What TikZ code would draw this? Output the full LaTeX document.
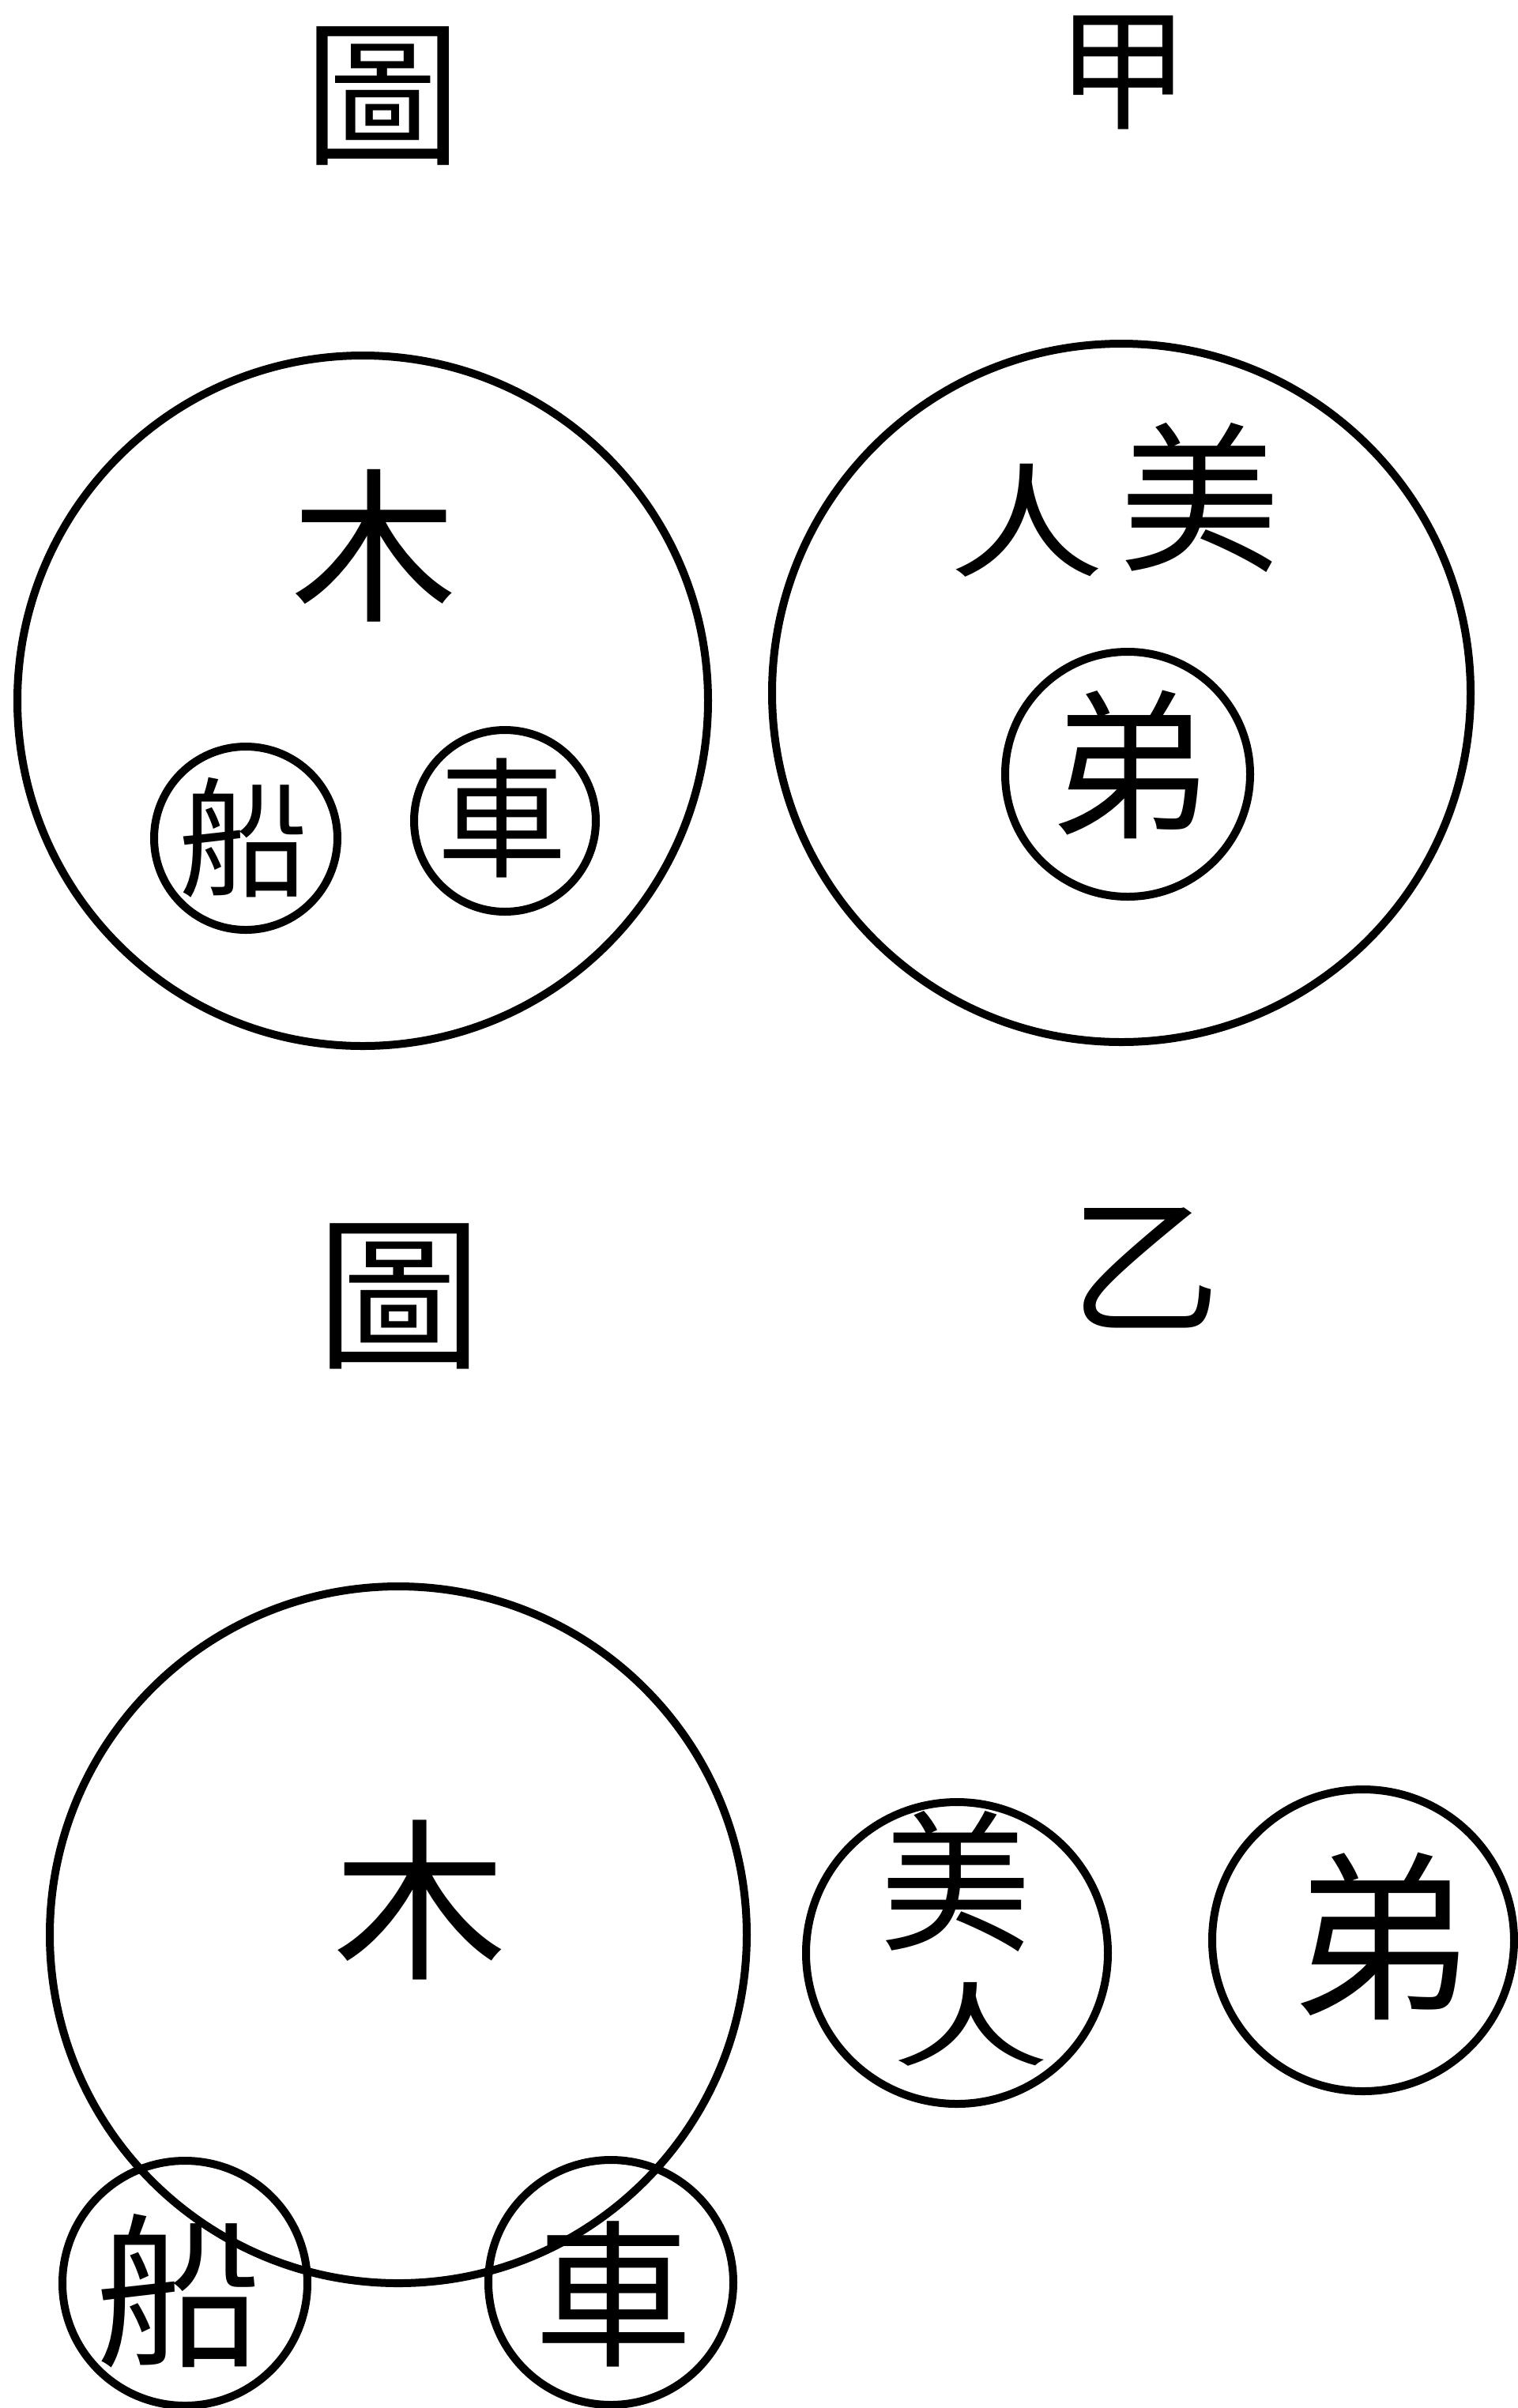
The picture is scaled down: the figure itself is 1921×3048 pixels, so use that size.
\documentclass[tikz,border=0pt]{standalone}
\usepackage{fontspec}
\newfontfamily\cjk{Noto Sans CJK TC}
\begin{document}
\begin{tikzpicture}[x=0.5pt,y=-0.5pt,
  ring/.style={draw, circle, line width=5pt, inner sep=0pt, minimum size=#1},
  ch/.style={inner sep=0pt, font=\cjk\fontsize{#1pt}{#1pt}\selectfont},
]
\fill[white] (0,0) rectangle (1921,3048);
\useasboundingbox (0,0) rectangle (1921,3048);

% top headings
\node[ch=100] (tu1) at (484,121) {圖};
\node[ch=84] (jia) at (1421,92) {甲};

% figure jia, left
\node[ring=437pt] (c1) at (459,887) {};
\node[ch=105] (mu1) at (473,691) {木};
\node[ring=116pt] (cchuan1) at (311,1061) {};
\node[ch=82] (chuan1) at (308,1060) {船};
\node[ring=115pt] (cche1) at (639,1039) {};
\node[ch=82] (che1) at (635,1035) {車};

% figure jia, right
\node[ring=442pt] (c2) at (1419,877) {};
\node[ch=98] (ren1) at (1299,659) {\scalebox{1}[0.8]{人}};
\node[ch=102] (mei1) at (1518,630) {美};
\node[ring=155pt] (cdi1) at (1427,980) {};
\node[ch=102] (di1) at (1430,968) {弟};

% middle headings
\node[ch=105] (tu2) at (505,1641) {圖};
\node[ch=95] (yi) at (1449,1605) {乙};

% figure yi
\node[ring=441pt] (c3) at (504,2449) {};
\node[ch=110] (mu3) at (531,2405) {木};
\node[ring=155pt] (cchuan3) at (234,2890) {};
\node[ch=105] (chuan3) at (226,2900) {船};
\node[ring=155pt] (cche3) at (773,2889) {};
\node[ch=100] (che3) at (776,2904) {車};

\node[ring=191pt] (cmr) at (1211,2472) {};
\node[ch=96] (mei3) at (1209,2382) {美};
\node[ch=100] (ren3) at (1228,2562) {\scalebox{1}[0.58]{人}};
\node[ring=191pt] (cdi3) at (1725,2456) {};
\node[ch=115] (di3) at (1748,2451) {弟};
\end{tikzpicture}
\end{document}
